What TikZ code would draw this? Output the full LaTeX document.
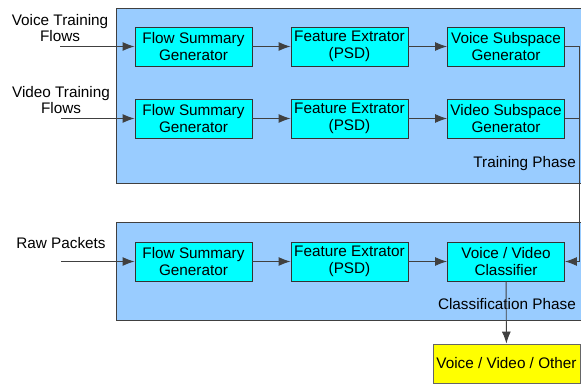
\documentclass[tikz,border=0pt]{standalone}
\usepackage{fontspec}
\setmainfont{Liberation Sans}
\usetikzlibrary{arrows.meta}
\definecolor{phasefill}{HTML}{99CCFF}
\definecolor{blockfill}{HTML}{00FFFF}
\definecolor{outfill}{HTML}{FFFF00}
\definecolor{edge}{HTML}{404040}
\begin{document}
\begin{tikzpicture}[x=1pt,y=-1pt,
  phase/.style={draw=edge,line width=0.9pt,fill=phasefill},
  block/.style={draw=black!80,line width=0.9pt,fill=blockfill,minimum width=117pt,minimum height=39pt,
    inner sep=0pt,align=center,font=\fontsize{15.3}{16.8}\selectfont},
  result/.style={draw=black!60,line width=0.9pt,fill=outfill,minimum width=147pt,minimum height=39pt,
    inner sep=0pt,align=center,font=\fontsize{15.3}{16.8}\selectfont},
  lbl/.style={align=center,inner sep=0pt,font=\fontsize{15.3}{16.8}\selectfont},
  flow/.style={draw=edge,line width=0.9pt,-{Latex[length=12pt,width=9pt]}},
  wire/.style={draw=edge,line width=0.9pt}]
\useasboundingbox (0,0) rectangle (581,386);
\clip (0,0) rectangle (581,386);

% phase frames
\path[phase] (116,8) rectangle (590,183);
\path[phase] (116,222) rectangle (590,320);
\node[lbl,anchor=east] (trainlbl) at (576,164) {Training Phase};
\node[lbl,anchor=east] (classlbl) at (576,304) {Classification Phase};

% training: voice row
\node[block] (fs1) at (193.5,46.5) {Flow Summary\\Generator};
\node[block] (fe1) at (349.5,46.5) {Feature Extrator\\(PSD)};
\node[block] (vs)  at (506,46.5) {Voice Subspace\\Generator};
% training: video row
\node[block] (fs2) at (193.5,118.5) {Flow Summary\\Generator};
\node[block] (fe2) at (349.5,118.5) {Feature Extrator\\(PSD)};
\node[block] (ds)  at (506,118.5) {Video Subspace\\Generator};
% classification row
\node[block] (fs3) at (193.5,261.5) {Flow Summary\\Generator};
\node[block] (fe3) at (349.5,261.5) {Feature Extrator\\(PSD)};
\node[block] (cls) at (506,261.5) {Voice / Video\\Classifier};
\node[result] (out) at (506.5,363.5) {Voice / Video / Other};

% inputs
\node[lbl] (vin) at (60,28) {Voice Training\\Flows};
\node[lbl] (din) at (61,100) {Video Training\\Flows};
\node[lbl] (rin) at (61,243) {Raw Packets};
\coordinate (vstart) at (60,46.5);
\coordinate (dstart) at (61,118.5);
\coordinate (rstart) at (61,261.5);

\draw[flow] (vstart) -- (fs1);
\draw[flow] (dstart) -- (fs2);
\draw[flow] (rstart) -- (fs3);
\draw[flow] (fs1) -- (fe1);
\draw[flow] (fe1) -- (vs);
\draw[flow] (fs2) -- (fe2);
\draw[flow] (fe2) -- (ds);
\draw[flow] (fs3) -- (fe3);
\draw[flow] (fe3) -- (cls);

% subspaces feed the classifier
\coordinate (bus) at (579,261.5);
\draw[wire] (vs.east) -- (579,46.5) -- (bus);
\draw[wire] (ds.east) -- (579,118.5);
\draw[flow] (bus) -- (cls.east);
\draw[flow] (cls) -- (out);
\end{tikzpicture}
\end{document}
